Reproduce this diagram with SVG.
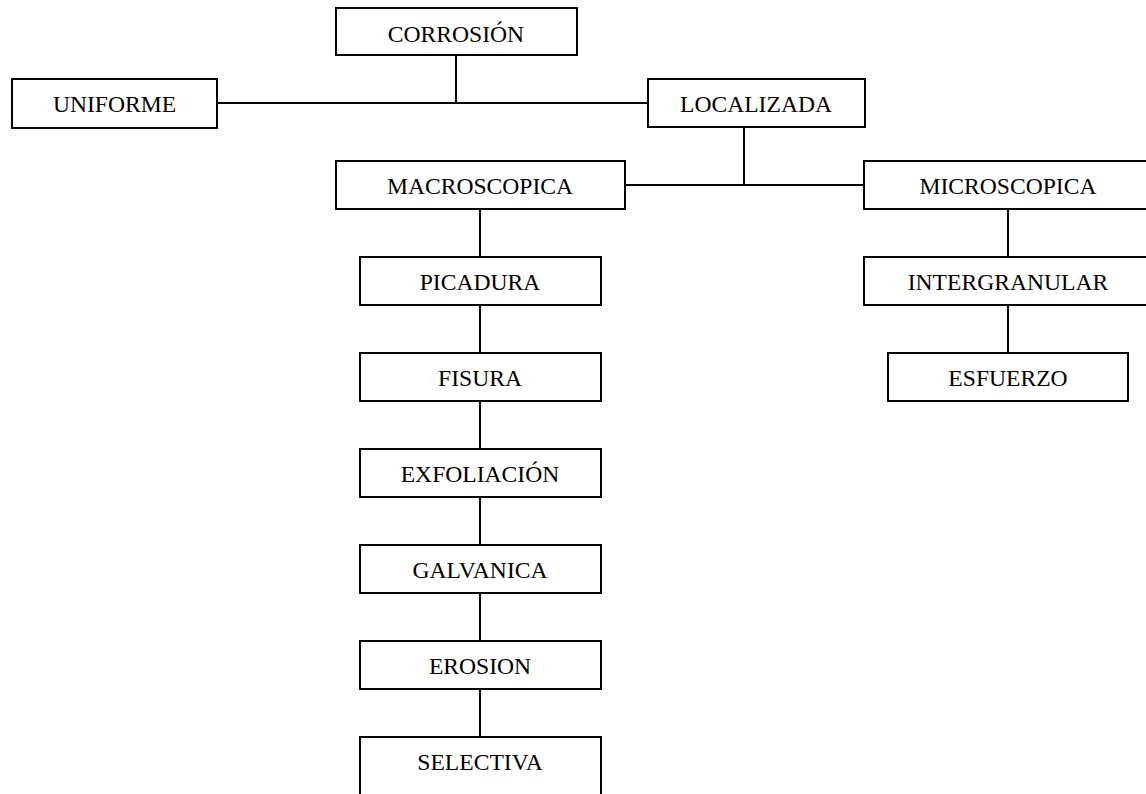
<svg xmlns="http://www.w3.org/2000/svg" width="1146" height="794" viewBox="0 0 1146 794">
<style>
.box{fill:#fff;stroke:#000;stroke-width:2}
.lbl{font-family:"Liberation Serif","Times New Roman",serif;font-size:23.6px;fill:#000;text-anchor:middle}
.con line{stroke:#000;stroke-width:2}
</style>
<rect width="1146" height="794" fill="#fff"/>
<g class="con" id="connectors">
<line x1="456" y1="55" x2="456" y2="103"/>
<line x1="217" y1="103" x2="648" y2="103"/>
<line x1="744" y1="127" x2="744" y2="185"/>
<line x1="625" y1="185" x2="864" y2="185"/>
<line x1="480" y1="209" x2="480" y2="257"/>
<line x1="480" y1="305" x2="480" y2="353"/>
<line x1="480" y1="401" x2="480" y2="449"/>
<line x1="480" y1="497" x2="480" y2="545"/>
<line x1="480" y1="593" x2="480" y2="641"/>
<line x1="480" y1="689" x2="480" y2="737"/>
<line x1="1008" y1="209" x2="1008" y2="257"/>
<line x1="1008" y1="305" x2="1008" y2="353"/>
</g>
<g id="corrosion"><rect class="box" x="336" y="8" width="241" height="47"/><text class="lbl" x="456" y="41.5">CORROSIÓN</text></g>
<g id="uniforme"><rect class="box" x="12" y="79" width="205" height="49"/><text class="lbl" x="114.5" y="112">UNIFORME</text></g>
<g id="localizada"><rect class="box" x="648" y="79" width="217" height="48"/><text class="lbl" x="756" y="112">LOCALIZADA</text></g>
<g id="macroscopica"><rect class="box" x="336" y="161" width="289" height="48"/><text class="lbl" x="480" y="194">MACROSCOPICA</text></g>
<g id="microscopica"><rect class="box" x="864" y="161" width="288" height="48"/><text class="lbl" x="1008" y="194">MICROSCOPICA</text></g>
<g id="picadura"><rect class="box" x="360" y="257" width="241" height="48"/><text class="lbl" x="480" y="290">PICADURA</text></g>
<g id="fisura"><rect class="box" x="360" y="353" width="241" height="48"/><text class="lbl" x="480" y="386">FISURA</text></g>
<g id="exfoliacion"><rect class="box" x="360" y="449" width="241" height="48"/><text class="lbl" x="480" y="482">EXFOLIACIÓN</text></g>
<g id="galvanica"><rect class="box" x="360" y="545" width="241" height="48"/><text class="lbl" x="480" y="578">GALVANICA</text></g>
<g id="erosion"><rect class="box" x="360" y="641" width="241" height="48"/><text class="lbl" x="480" y="674">EROSION</text></g>
<g id="selectiva"><rect class="box" x="360" y="737" width="241" height="70"/><text class="lbl" x="480" y="770">SELECTIVA</text></g>
<g id="intergranular"><rect class="box" x="864" y="257" width="288" height="48"/><text class="lbl" x="1008" y="290">INTERGRANULAR</text></g>
<g id="esfuerzo"><rect class="box" x="888" y="353" width="240" height="48"/><text class="lbl" x="1008" y="386">ESFUERZO</text></g>
</svg>
